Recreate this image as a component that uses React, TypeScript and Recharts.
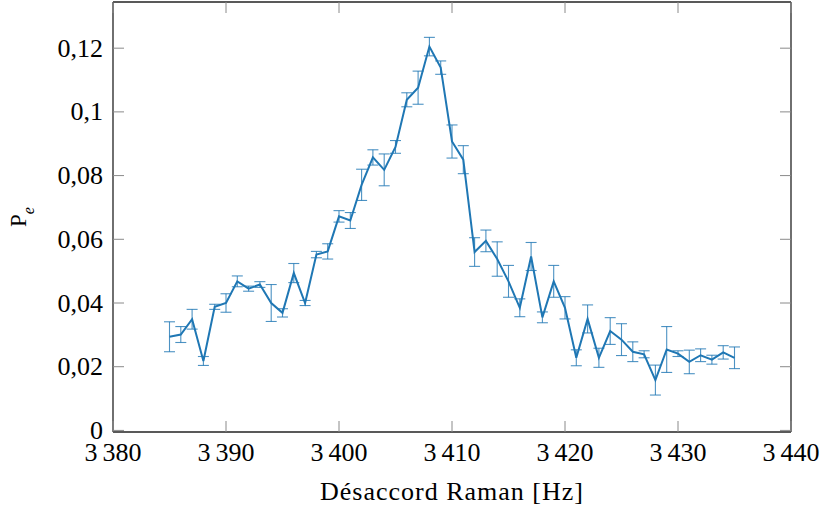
import React from "react";
import { LineChart, Line, XAxis, YAxis, ErrorBar } from "recharts";

const detuning = [
  3385, 3386, 3387, 3388, 3389, 3390, 3391, 3392, 3393, 3394, 3395, 3396, 3397,
  3398, 3399, 3400, 3401, 3402, 3403, 3404, 3405, 3406, 3407, 3408, 3409, 3410,
  3411, 3412, 3413, 3414, 3415, 3416, 3417, 3418, 3419, 3420, 3421, 3422, 3423,
  3424, 3425, 3426, 3427, 3428, 3429, 3430, 3431, 3432, 3433, 3434, 3435,
];
const probability = [
  0.0294, 0.0301, 0.0349, 0.0218, 0.0388, 0.04, 0.0468, 0.0445, 0.0458, 0.04,
  0.0369, 0.0494, 0.04, 0.0552, 0.0562, 0.0672, 0.0659, 0.0771, 0.0857, 0.0818,
  0.089, 0.1038, 0.1076, 0.1205, 0.1139, 0.0907, 0.085, 0.056, 0.0595, 0.0538,
  0.0468, 0.0385, 0.0546, 0.0355, 0.0468, 0.0385, 0.0228, 0.035, 0.0228, 0.0312,
  0.0285, 0.0247, 0.0239, 0.0158, 0.0254, 0.0241, 0.0215, 0.0236, 0.0222,
  0.0245, 0.0228,
];
const errors = [
  0.0047, 0.0025, 0.0031, 0.0014, 0.0008, 0.0029, 0.0017, 0.0008, 0.0009,
  0.0058, 0.0013, 0.003, 0.0008, 0.001, 0.0024, 0.0018, 0.0025, 0.0049, 0.0024,
  0.005, 0.002, 0.0022, 0.0052, 0.0029, 0.0021, 0.0052, 0.0044, 0.0045, 0.0034,
  0.0054, 0.005, 0.0028, 0.0044, 0.0017, 0.005, 0.0035, 0.0025, 0.0044, 0.003,
  0.0042, 0.005, 0.0031, 0.0011, 0.0047, 0.0072, 0.0009, 0.0037, 0.002, 0.0014,
  0.0021, 0.0034,
];
const xTicks = [3380, 3390, 3400, 3410, 3420, 3430, 3440];
const yTicks = [0, 0.02, 0.04, 0.06, 0.08, 0.1, 0.12];

const data = detuning.map((x, i) => ({ x, y: probability[i], err: errors[i] }));

const FONT = "Times New Roman";
const BLUE = "#1f77b4";
const TICK_COLOR = "#8a8a8a";
const TICK_LEN = 11;

const fmtX = (v: number) => {
  const s = String(v);
  return s.slice(0, 1) + "\u2009" + s.slice(1);
};
const fmtY = (v: number) => {
  if (v === 0) return "0";
  return String(Number(v.toFixed(2))).replace(".", ",");
};

const BottomTick = (props: any) => {
  const { x, y, payload } = props;
  return (
    <g>
      <line x1={x} y1={y} x2={x} y2={y - TICK_LEN} stroke={TICK_COLOR} strokeWidth={1} />
      <text x={x} y={y + 29} textAnchor="middle" fontFamily={FONT} fontSize={26} fill="#000">
        {fmtX(payload.value)}
      </text>
    </g>
  );
};
const TopTick = (props: any) => {
  const { x, y } = props;
  return <line x1={x} y1={y} x2={x} y2={y + TICK_LEN} stroke={TICK_COLOR} strokeWidth={1} />;
};
const LeftTick = (props: any) => {
  const { x, y, payload } = props;
  return (
    <g>
      <line x1={x} y1={y} x2={x + TICK_LEN} y2={y} stroke={TICK_COLOR} strokeWidth={1} />
      <text x={x - 10} y={y + 8.5} textAnchor="end" fontFamily={FONT} fontSize={26} fill="#000">
        {fmtY(payload.value)}
      </text>
    </g>
  );
};
const RightTick = (props: any) => {
  const { x, y } = props;
  return <line x1={x} y1={y} x2={x - TICK_LEN} y2={y} stroke={TICK_COLOR} strokeWidth={1} />;
};

const YLabel = () => (
  <text
    transform="rotate(-90 26 217)"
    x={26}
    y={217}
    textAnchor="middle"
    fontFamily={FONT}
    fontSize={23}
    fill="#000"
  >
    P
    <tspan fontStyle="italic" fontSize={16} dy={8}>
      e
    </tspan>
  </text>
);

const XLabel = () => (
  <text
    x={452}
    y={500}
    textAnchor="middle"
    fontFamily={FONT}
    fontSize={26}
    letterSpacing={1}
    fill="#000"
  >
    Désaccord Raman [Hz]
  </text>
);

const frameLine = { stroke: "#222", strokeWidth: 1.3 };

export default function App() {
  return (
    <div style={{ position: "absolute", left: 0, top: 0, background: "#fff" }}>
      <LineChart
        width={822}
        height={514}
        data={data}
        margin={{ top: 1, right: 30, left: 0, bottom: 0 }}
      >
        <XAxis
          xAxisId="bottom"
          dataKey="x"
          type="number"
          domain={[3380, 3440]}
          ticks={xTicks}
          interval={0}
          height={82}
          tickSize={0}
          tickMargin={0}
          tickLine={false}
          axisLine={frameLine}
          tick={<BottomTick />}
          allowDataOverflow
          label={<XLabel />}
        />
        <XAxis
          xAxisId="top"
          orientation="top"
          dataKey="x"
          type="number"
          domain={[3380, 3440]}
          ticks={xTicks}
          interval={0}
          height={1}
          tickSize={0}
          tickMargin={0}
          tickLine={false}
          axisLine={frameLine}
          tick={<TopTick />}
          allowDataOverflow
        />
        <YAxis
          yAxisId="left"
          type="number"
          domain={[-0.0005, 0.1345]}
          ticks={yTicks}
          interval={0}
          width={113}
          tickSize={0}
          tickMargin={0}
          tickLine={false}
          axisLine={frameLine}
          tick={<LeftTick />}
          allowDataOverflow
          label={<YLabel />}
        />
        <YAxis
          yAxisId="right"
          orientation="right"
          type="number"
          domain={[-0.0005, 0.1345]}
          ticks={yTicks}
          interval={0}
          width={1}
          tickSize={0}
          tickMargin={0}
          tickLine={false}
          axisLine={frameLine}
          tick={<RightTick />}
          allowDataOverflow
        />
        <Line
          xAxisId="top"
          yAxisId="right"
          type="linear"
          dataKey="y"
          stroke="none"
          dot={false}
          activeDot={false}
          isAnimationActive={false}
        />
        <Line
          xAxisId="bottom"
          yAxisId="left"
          type="linear"
          dataKey="y"
          stroke={BLUE}
          strokeWidth={2}
          dot={false}
          isAnimationActive={false}
        >
          <ErrorBar
            dataKey="err"
            direction="y"
            width={5.5}
            stroke={BLUE}
            strokeWidth={1.1}
            strokeOpacity={0.8}
            isAnimationActive={false}
          />
        </Line>
      </LineChart>
    </div>
  );
}
